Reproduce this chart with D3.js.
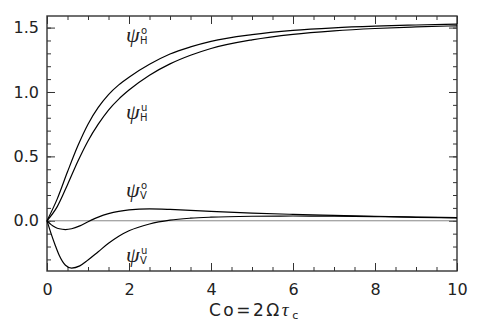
<!DOCTYPE html>
<html>
<head>
<meta charset="utf-8">
<script src="https://cdn.jsdelivr.net/npm/d3@7"></script>
<style>
  body { margin: 0; background: #fff; }
  text { font-family: "DejaVu Sans", sans-serif; fill: #222; }
</style>
</head>
<body>
<svg id="chart" width="480" height="327"></svg>
<script>
// values
var co = [0, 0.25, 0.5, 0.75, 1, 1.25, 1.5, 1.75, 2, 2.5, 3, 3.5, 4, 5, 6, 7, 8, 9, 10]

var psiHo = [0, 0.17, 0.38, 0.58, 0.75, 0.88, 0.98, 1.055, 1.115, 1.215, 1.295, 1.35, 1.393, 1.445, 1.478, 1.498, 1.511, 1.52, 1.527]
var psiHu = [0, 0.11, 0.28, 0.46, 0.62, 0.75, 0.86, 0.945, 1.015, 1.13, 1.218, 1.285, 1.338, 1.405, 1.448, 1.475, 1.493, 1.505, 1.514]

var coV = [0, 0.1, 0.2, 0.3, 0.45, 0.6, 0.8, 1.0, 1.25, 1.5, 1.75, 2.0, 2.5, 3, 3.5, 4, 5, 6, 7, 8, 9, 10]
var psiVo = [0, -0.03, -0.05, -0.062, -0.068, -0.062, -0.04, -0.008, 0.028, 0.055, 0.073, 0.084, 0.092, 0.088, 0.081, 0.073, 0.06, 0.05, 0.042, 0.035, 0.029, 0.024]
var psiVu = [0, -0.1, -0.19, -0.27, -0.345, -0.367, -0.35, -0.305, -0.24, -0.175, -0.12, -0.078, -0.025, 0.005, 0.02, 0.028, 0.035, 0.037, 0.036, 0.032, 0.027, 0.023]

var xMajor = [0, 2, 4, 6, 8, 10]
var yMajor = [0, 0.5, 1.0, 1.5]

var labels = [
    {sup: "o", sub: "H", y: 1.38},
    {sup: "u", sub: "H", y: 0.78},
    {sup: "o", sub: "V", y: 0.18},
    {sup: "u", sub: "V", y: -0.33}
]

var mLeft = 47, mRight = 457, mTop = 16, mBottom = 271

var x = d3.scaleLinear().domain([0, 10]).range([mLeft, mRight])
var y = d3.scaleLinear().domain([-0.39, 1.59]).range([mBottom, mTop])

var svg = d3.select("#chart")

var xMinor = d3.range(0, 10.01, 0.5)
var yMinor = d3.range(-0.3, 1.59, 0.1).map(function(d) { return +d.toFixed(1) })

function tickAxis(gen, scale, vals, size, fmt) {
    return gen(scale).tickValues(vals).tickSize(size).tickFormat(fmt)
}

// minor + major ticks, all four sides, pointing inward
var axes = [
    [d3.axisBottom, x, xMinor, -4, "", mBottom],
    [d3.axisBottom, x, xMajor, -8, null, mBottom],
    [d3.axisTop, x, xMinor, -4, "", mTop],
    [d3.axisTop, x, xMajor, -8, "", mTop],
    [d3.axisLeft, y, yMinor, -4, "", mLeft],
    [d3.axisLeft, y, yMajor, -8, null, mLeft],
    [d3.axisRight, y, yMinor, -4, "", mRight],
    [d3.axisRight, y, yMajor, -8, "", mRight]
]

axes.forEach(function(a) {
    var horiz = (a[0] === d3.axisBottom || a[0] === d3.axisTop)
    var fmt = a[4] === "" ? function() { return "" } :
        (horiz ? d3.format("d") : d3.format(".1f"))
    var g = svg.append("g")
        .attr("transform", horiz ? "translate(0," + a[5] + ")" : "translate(" + a[5] + ",0)")
        .call(tickAxis(a[0], a[1], a[2], a[3], fmt))
    g.select(".domain").remove()
    g.selectAll("line").attr("stroke", "#333").attr("stroke-width", 1)
    g.selectAll("text")
        .style("font-size", "16px")
        .style("font-family", "'DejaVu Sans', sans-serif")
        .attr("fill", "#222")
    if (a[0] === d3.axisBottom) g.selectAll("text").attr("y", 13)
    if (a[0] === d3.axisLeft) g.selectAll("text").attr("x", -8)
})

// zero line
svg.append("line")
    .attr("x1", x(0)).attr("x2", x(10))
    .attr("y1", y(0)).attr("y2", y(0))
    .attr("stroke", "#888").attr("stroke-width", 1)

// frame
svg.append("rect")
    .attr("x", mLeft).attr("y", mTop)
    .attr("width", mRight - mLeft).attr("height", mBottom - mTop)
    .attr("fill", "none").attr("stroke", "#333").attr("stroke-width", 1.4)

var line = d3.line()
    .x(function(d) { return x(d[0]) })
    .y(function(d) { return y(d[1]) })
    .curve(d3.curveMonotoneX)

var series = [[co, psiHo], [co, psiHu], [coV, psiVo], [coV, psiVu]]
svg.selectAll("path.curve")
    .data(series)
    .enter()
    .append("path")
    .attr("class", "curve")
    .attr("d", function(s) { return line(s[0].map(function(c, i) { return [c, s[1][i]] })) })
    .attr("fill", "none")
    .attr("stroke", "#000")
    .attr("stroke-width", 1.2)

// psi labels
labels.forEach(function(l) {
    var by = y(l.y)
    svg.append("text")
        .attr("x", 126)
        .attr("y", by - 1)
        .style("font-family", "'Liberation Serif', serif")
        .style("font-style", "italic")
        .style("font-size", "22px")
        .text("ψ")
    svg.append("text")
        .attr("x", 141)
        .attr("y", by - 9)
        .style("font-size", "10px")
        .text(l.sup)
    svg.append("text")
        .attr("x", 140)
        .attr("y", by + 1)
        .style("font-size", "10px")
        .text(l.sub)
})

// x title
var title = svg.append("text")
    .attr("x", 209)
    .attr("y", 316)
    .style("font-size", "17px")
    .style("letter-spacing", "2.5px")
title.append("tspan").text("Co=2Ω")
title.append("tspan").style("font-family", "'Liberation Serif', serif").style("font-style", "italic").style("font-size", "19px").text("τ")
title.append("tspan").attr("dy", 3).attr("dx", 1).style("font-size", "11px").text("c")
</script>
</body>
</html>
